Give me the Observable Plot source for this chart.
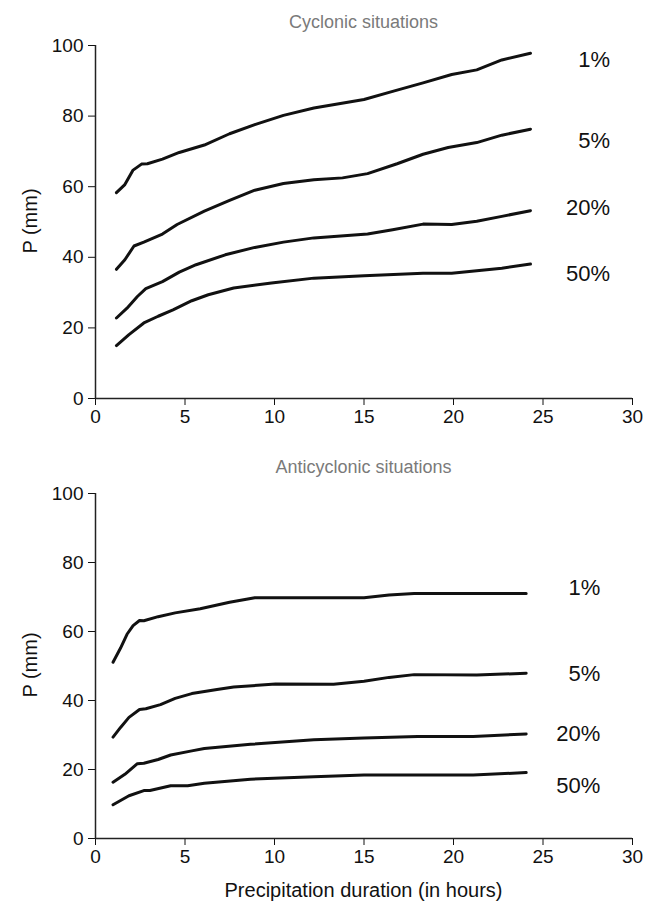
<!DOCTYPE html>
<html>
<head>
<meta charset="utf-8">
<script src="https://cdn.jsdelivr.net/npm/d3@7"></script>
<script src="https://cdn.jsdelivr.net/npm/@observablehq/plot@0.6"></script>
<style>
  body { margin: 0; background: #fff; }
  #wrap { position: relative; width: 663px; height: 907px; font-family: "Liberation Sans", Arial, sans-serif; color: #111; }
  .title { position: absolute; left: 95px; width: 537px; text-align: center; color: #7a7a7a; font-size: 18px; line-height: 20px; }
  .ylab { position: absolute; width: 120px; text-align: center; font-size: 20px; line-height: 22px; transform: rotate(-90deg); }
  .xlab { position: absolute; left: 95px; width: 537px; text-align: center; font-size: 20px; line-height: 22px; }
  .chart { position: absolute; left: 0; }
  #wrap svg g[aria-label*="axis"] text { font-size: 19px; fill: #111; }
</style>
</head>
<body>
<div id="wrap">
  <div class="chart" id="c1" style="top:0px"></div>
  <div class="chart" id="c2" style="top:448px"></div>
  <div class="title" style="top:12px">Cyclonic situations</div>
  <div class="title" style="top:457px">Anticyclonic situations</div>
  <div class="ylab" style="left:-30px; top:210px">P (mm)</div>
  <div class="ylab" style="left:-30px; top:654px">P (mm)</div>
  <div class="xlab" style="top:879px">Precipitation duration (in hours)</div>
</div>
<script>
// ---- Data: Cyclonic situations ----
const cycSeries = ["1%", "5%", "20%", "50%"];
const cyc1H = [1.17, 1.64, 2.1, 2.57, 2.9, 3.74, 4.68, 6.08, 7.49, 8.9, 10.5, 12.2, 15.0, 16.6, 18.3, 19.9, 21.3, 22.7, 24.3];
const cyc1P = [58.3, 60.6, 64.7, 66.4, 66.5, 67.8, 69.7, 71.8, 75.0, 77.6, 80.2, 82.3, 84.7, 87.0, 89.4, 91.8, 93.1, 95.9, 97.8];
const cyc5H = [1.17, 1.64, 2.15, 2.7, 3.74, 4.56, 6.08, 7.49, 8.9, 10.5, 12.2, 13.8, 15.2, 16.85, 18.3, 19.7, 21.3, 22.7, 24.3];
const cyc5P = [36.6, 39.3, 43.2, 44.3, 46.6, 49.3, 53.1, 56.1, 59.0, 60.9, 62.0, 62.5, 63.7, 66.5, 69.2, 71.1, 72.5, 74.6, 76.3];
const cyc20H = [1.17, 1.76, 2.34, 2.81, 3.74, 4.68, 5.62, 7.25, 8.9, 10.5, 12.2, 15.2, 16.6, 18.3, 19.9, 21.3, 22.7, 24.3];
const cyc20P = [22.8, 25.6, 28.9, 31.1, 33.1, 35.8, 37.9, 40.7, 42.8, 44.3, 45.5, 46.6, 47.8, 49.4, 49.3, 50.2, 51.6, 53.2];
const cyc50H = [1.17, 1.87, 2.7, 3.5, 4.33, 5.38, 6.3, 7.72, 9.83, 12.2, 15.0, 18.3, 19.9, 22.7, 24.3];
const cyc50P = [15.0, 18.1, 21.4, 23.3, 25.1, 27.7, 29.4, 31.3, 32.7, 34.1, 34.8, 35.5, 35.5, 36.9, 38.1];
const cycLabelP = [96.0, 72.9, 53.9, 35.2];

// ---- Data: Anticyclonic situations ----
const antSeries = ["1%", "5%", "20%", "50%"];
const ant1H = [0.98, 1.4, 1.76, 2.1, 2.46, 2.7, 3.5, 4.45, 5.85, 7.49, 8.9, 15.0, 16.4, 17.8, 24.06];
const ant1P = [51.1, 55.2, 59.2, 61.7, 63.2, 63.1, 64.3, 65.4, 66.6, 68.5, 69.8, 69.8, 70.6, 71.0, 71.0];
const ant5H = [0.98, 1.4, 1.87, 2.46, 2.81, 3.63, 4.45, 5.38, 6.79, 7.72, 10.06, 13.3, 15.0, 16.4, 17.8, 21.3, 24.06];
const ant5P = [29.4, 32.2, 35.1, 37.4, 37.6, 38.8, 40.6, 42.0, 43.2, 43.9, 44.8, 44.7, 45.6, 46.7, 47.5, 47.4, 47.9];
const ant20H = [0.98, 1.64, 2.34, 2.7, 3.5, 4.2, 5.38, 6.08, 8.66, 12.2, 15.0, 18.0, 21.1, 24.06];
const ant20P = [16.3, 18.6, 21.7, 21.8, 22.9, 24.2, 25.4, 26.1, 27.3, 28.6, 29.1, 29.6, 29.6, 30.3];
const ant50H = [0.98, 1.87, 2.7, 3.04, 4.2, 5.15, 6.08, 8.66, 12.2, 15.0, 21.1, 24.06];
const ant50P = [9.8, 12.4, 13.9, 13.9, 15.3, 15.3, 16.0, 17.2, 17.9, 18.4, 18.4, 19.1];
const antLabelP = [72.5, 47.7, 30.3, 15.1];

const xTicks = [0, 5, 10, 15, 20, 25, 30];
const yTicks = [0, 20, 40, 60, 80, 100];

function rows(series, hs, ps) {
  const out = [];
  series.forEach((s, i) => hs[i].forEach((h, j) => out.push({h, p: ps[i][j], s})));
  return out;
}

const cycRows = rows(cycSeries, [cyc1H, cyc5H, cyc20H, cyc50H], [cyc1P, cyc5P, cyc20P, cyc50P]);
const antRows = rows(antSeries, [ant1H, ant5H, ant20H, ant50H], [ant1P, ant5P, ant20P, ant50P]);
const cycLabels = cycSeries.map((s, i) => ({s, p: cycLabelP[i]}));
const antLabels = antSeries.map((s, i) => ({s, p: antLabelP[i]}));

function panel(data, labels, labelX, height, marginBottom) {
  return Plot.plot({
    width: 663,
    height,
    marginLeft: 95,
    marginRight: 31,
    marginTop: 45,
    marginBottom,
    style: {fontFamily: "'Liberation Sans', Arial, sans-serif", fontSize: "19px", color: "#111", background: "#fff"},
    x: {domain: [0, 30], ticks: xTicks, tickSize: 7, tickPadding: 4, label: null},
    y: {domain: [0, 100], ticks: yTicks, tickSize: 7, tickPadding: 5, label: null},
    marks: [
      Plot.ruleX([0], {stroke: "#222", strokeWidth: 1.5}),
      Plot.ruleY([0], {stroke: "#222", strokeWidth: 1.5}),
      Plot.line(data, {x: "h", y: "p", z: "s", stroke: "#111", strokeWidth: 3, strokeLinejoin: "round", strokeLinecap: "round"}),
      Plot.text(labels, {x: labelX, y: "p", text: "s", textAnchor: "end", fontSize: 22, fill: "#111"})
    ]
  });
}

const p1 = panel(cycRows, cycLabels, 28.75, 448, 50);
const p2 = panel(antRows, antLabels, 28.2, 459, 69);
document.getElementById("c1").appendChild(p1);
document.getElementById("c2").appendChild(p2);
</script>
</body>
</html>
